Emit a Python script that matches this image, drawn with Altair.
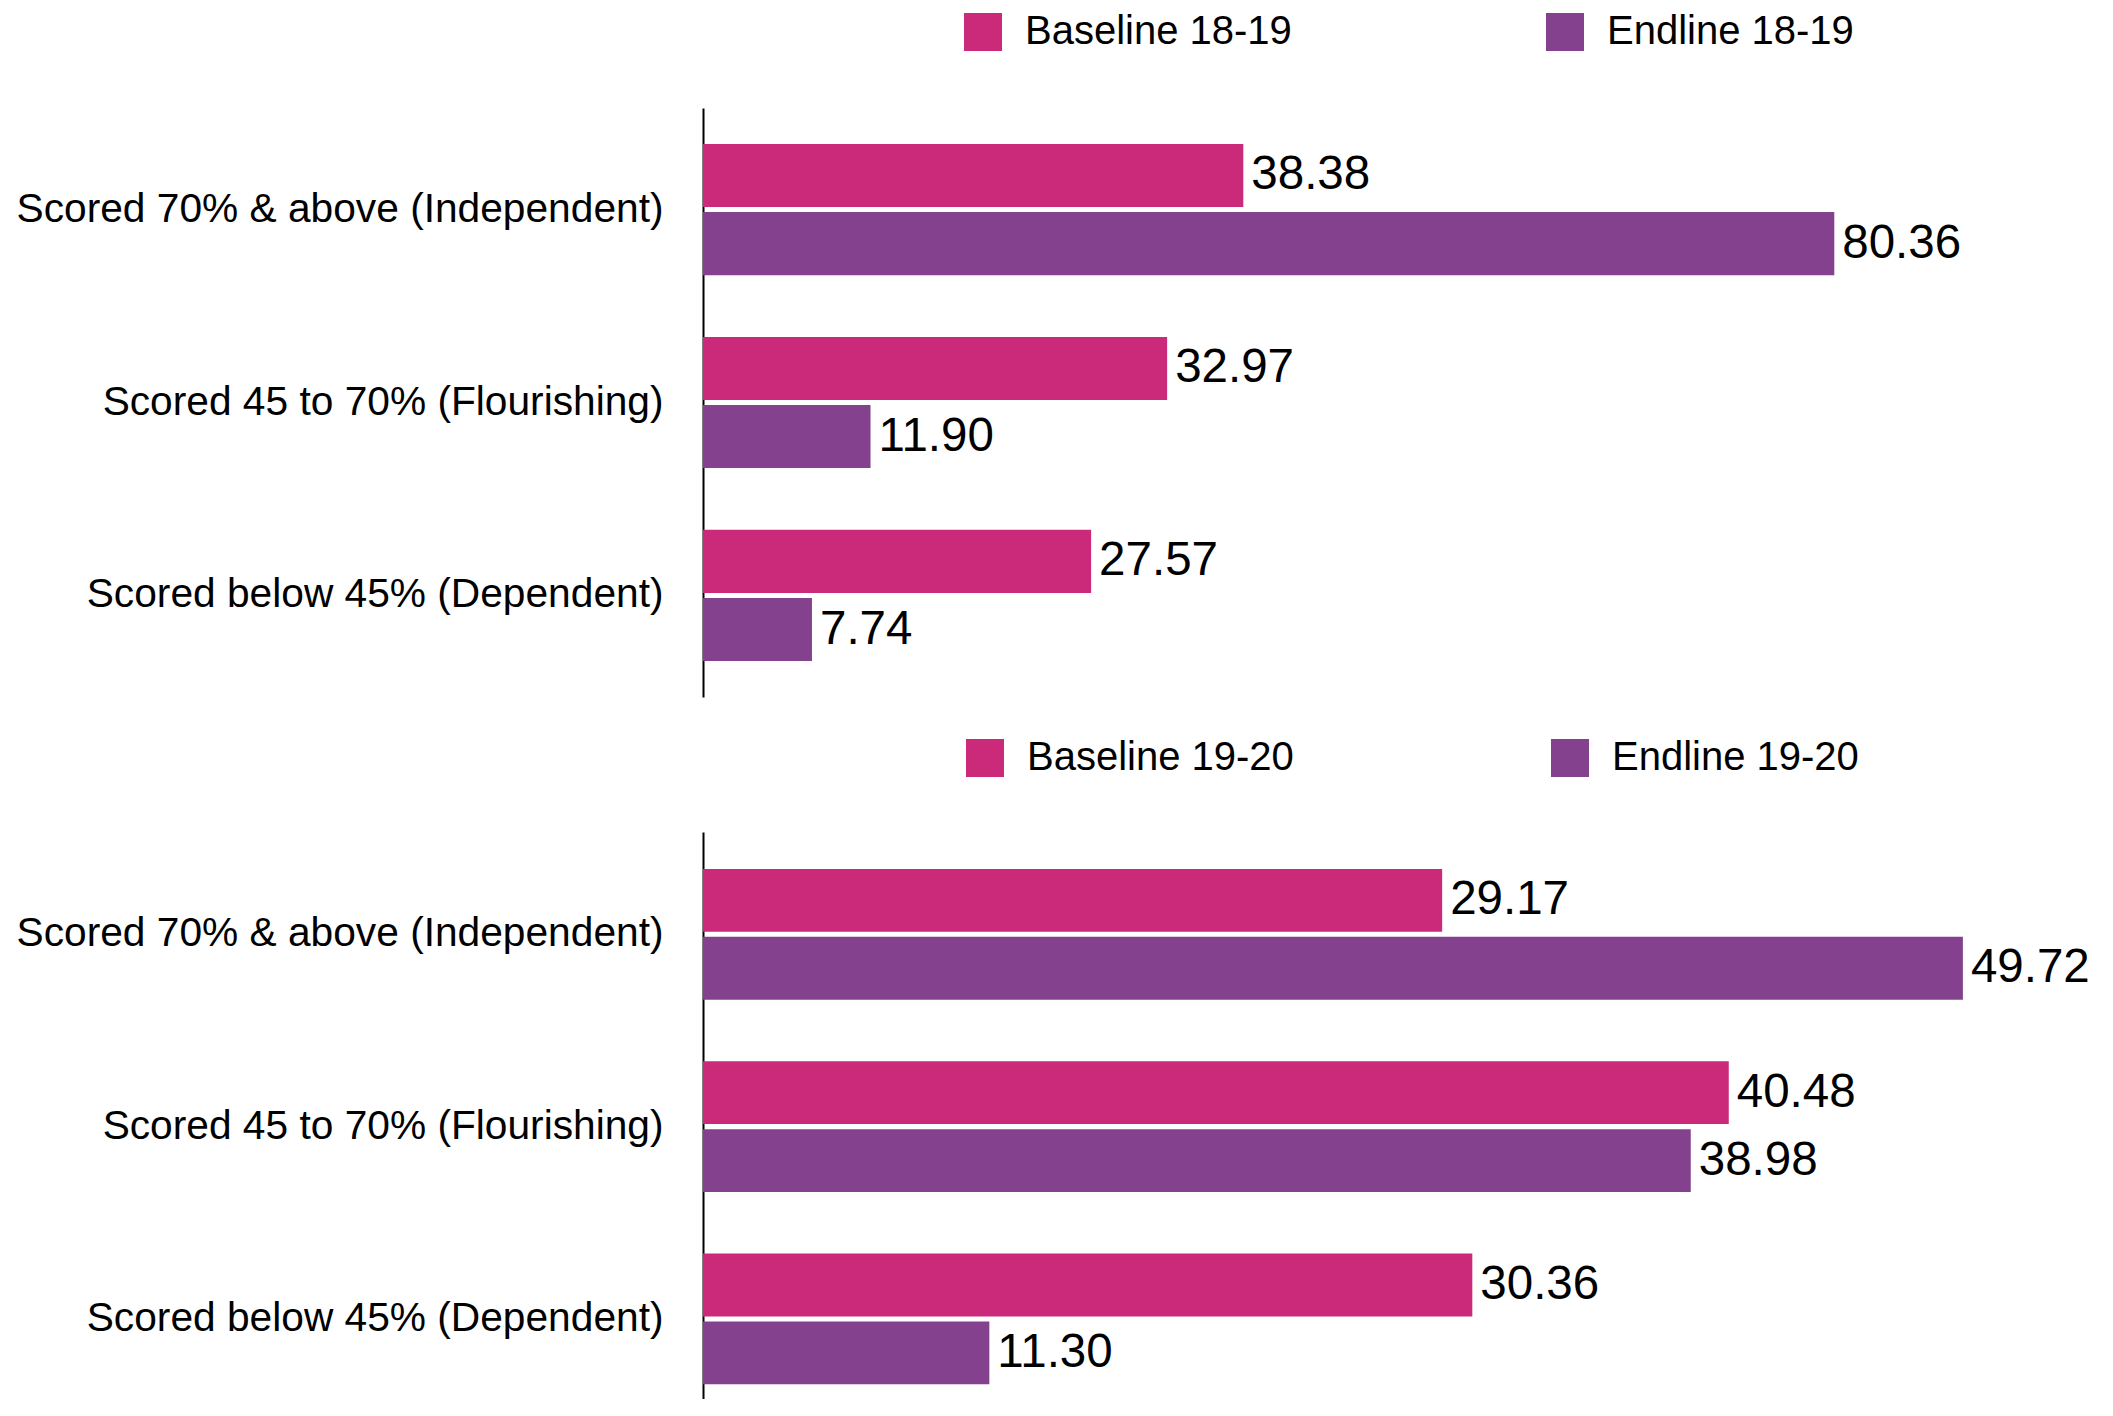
import altair as alt
import pandas as pd

categories = [
    "Scored 70% & above (Independent)",
    "Scored 45 to 70% (Flourishing)",
    "Scored below 45% (Dependent)",
]
series_1819 = ["Baseline 18-19", "Endline 18-19"]
baseline_1819 = [38.38, 32.97, 27.57]
endline_1819 = [80.36, 11.90, 7.74]

series_1920 = ["Baseline 19-20", "Endline 19-20"]
baseline_1920 = [29.17, 40.48, 30.36]
endline_1920 = [49.72, 38.98, 11.30]

PINK = "#CB2A7B"
PURPLE = "#84418E"
FONT = "Liberation Sans"


def make_df(series, base, end):
    rows = []
    for c, v in zip(categories, base):
        rows.append({"category": c, "series": series[0], "value": v})
    for c, v in zip(categories, end):
        rows.append({"category": c, "series": series[1], "value": v})
    return pd.DataFrame(rows)


def panel(df, series, xmax, height, pouter, align, legend_x, legend_y, colpad):
    y_enc = alt.Y(
        "category:N",
        sort=categories,
        title=None,
        scale=alt.Scale(paddingInner=0.32, paddingOuter=pouter, align=align),
        axis=alt.Axis(
            labelFontSize=40.7,
            labelColor="black",
            labelPadding=40,
            labelLimit=2000,
            ticks=False,
            tickSize=0,
            domainColor="black",
            domainWidth=2,
            grid=False,
            labelFont=FONT,
        ),
    )
    yoff = alt.YOffset(
        "series:N", sort=series, scale=alt.Scale(paddingInner=0.075, paddingOuter=0)
    )
    x_enc = alt.X(
        "value:Q", scale=alt.Scale(domain=[0, xmax], nice=False, zero=True), axis=None
    )
    bars = alt.Chart(df).mark_bar().encode(
        y=y_enc,
        yOffset=yoff,
        x=x_enc,
        color=alt.Color(
            "series:N",
            sort=series,
            scale=alt.Scale(domain=series, range=[PINK, PURPLE]),
            legend=alt.Legend(
                title=None,
                orient="none",
                direction="horizontal",
                legendX=legend_x,
                legendY=legend_y,
                symbolType="square",
                symbolSize=1444,
                symbolStrokeWidth=0,
                symbolOpacity=1,
                labelFontSize=40,
                labelFont=FONT,
                labelColor="black",
                labelOffset=22,
                labelLimit=2000,
                columnPadding=colpad,
            ),
        ),
    )
    text = alt.Chart(df).mark_text(
        align="left", baseline="middle", dx=8, fontSize=47.5, font=FONT, color="black"
    ).encode(
        y=alt.Y("category:N", sort=categories),
        yOffset=alt.YOffset("series:N", sort=series),
        x=alt.X("value:Q"),
        text=alt.Text("value:Q", format=".2f"),
    )
    return alt.layer(bars, text).properties(width=1267, height=height)


df1 = make_df(series_1819, baseline_1819, endline_1819)
df2 = make_df(series_1920, baseline_1920, endline_1920)

p1 = panel(df1, series_1819, 90, 589, 0.186, 0.5, 260, -96, 253)
p2 = panel(df2, series_1920, 50, 567, 0.134, 0.716, 262, -94, 256)

chart = (
    alt.vconcat(p1, p2, spacing=41)
    .resolve_scale(color="independent", x="independent", y="independent", yOffset="independent")
    .resolve_legend(color="independent")
    .properties(padding={"left": 8, "top": 4, "right": 0, "bottom": 0})
    .configure(font=FONT)
    .configure_view(strokeWidth=0, stroke="transparent")
)

chart.save("out.html", embed_options={"renderer": "svg", "actions": False})
